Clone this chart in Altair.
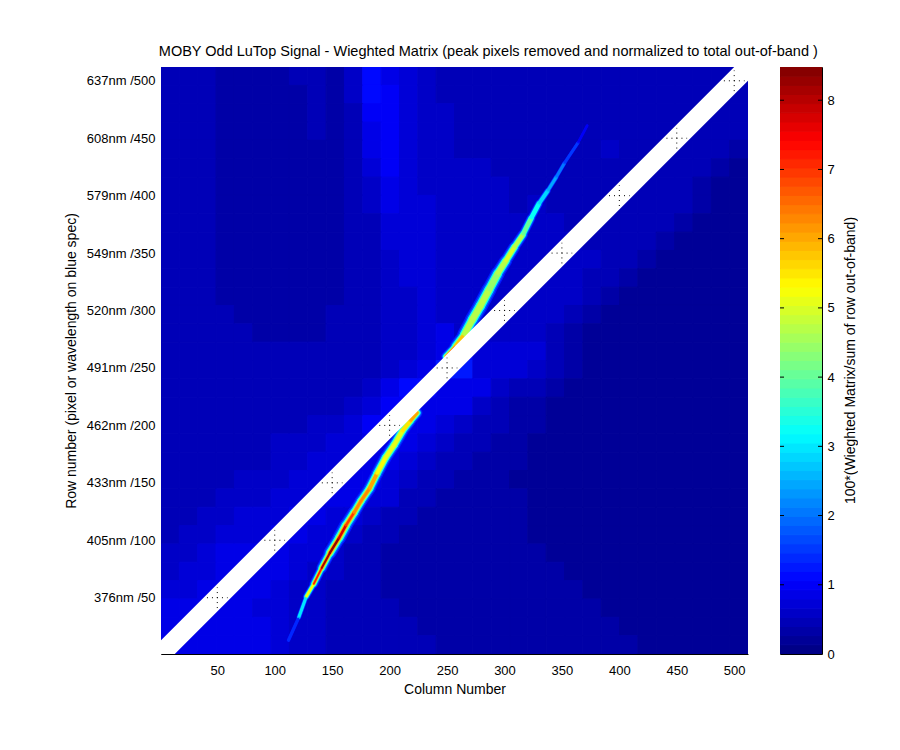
import altair as alt
import pandas as pd

FONT = "Liberation Sans"
TITLE = "MOBY Odd LuTop Signal - Wieghted Matrix (peak pixels removed and normalized to total out-of-band )"
row_ticks = [50, 100, 150, 200, 250, 300, 350, 400, 450, 500]
wavelengths = [376, 405, 433, 462, 491, 520, 549, 579, 608, 637]
VMAX = 8.48

# background level codes (one char per 16 columns, top row first), unit = one colour step
bg_rows = [
    "33322223324865433333333333333333",
    "33322222324875433333333333333333",
    "33322222323775443333333333333333",
    "33322222323675443333333333333333",
    "33322222223675443333333343333332",
    "33322222223575444433333333333321",
    "33322222223465444443333333333211",
    "33322222223465544443433333333211",
    "33322222223355544444443333332111",
    "33322222223355544444444333321111",
    "33322222223345544444444433211111",
    "33322222223345544444444332111111",
    "33322222223344544444444321111111",
    "33332222233344544444443211111111",
    "33333222233344564444432111111111",
    "33333333333344568555532111111111",
    "33333333333345699555432111111111",
    "33333333333468866643321111111111",
    "33333333334577666432211111111111",
    "33333333445776654332211111111111",
    "33333344455666543322111111111111",
    "33333344555665433222111111111111",
    "33334445566654332221111111111111",
    "33344455566553322222111111111111",
    "33445556655433222222111111111111",
    "34455566554332222222111111111111",
    "44566665543322222222211111111111",
    "45566665443322222222221111111111",
    "55666654433322222222222111111111",
    "66666554433332222222222211111111",
    "66666654433333222222222221111111",
    "66666654433333322222222222111111",
]

# ridge below the band
low_col = [112, 121, 127.5, 134, 141, 148, 156, 162, 169, 175, 182.5, 189, 196.5, 204, 211, 218, 224]
low_row = [13, 33, 51, 62, 76, 89, 102, 113, 124, 134, 145, 158, 172, 183, 195, 204, 211]
low_peak = [0.8, 2, 4, 6.5, 8, 8.3, 8.3, 7.3, 6.5, 6, 6.5, 5.5, 5, 5.2, 5, 6, 6]
low_width = [2, 3, 4, 6, 7, 9, 10, 10, 9, 9, 9, 9, 9, 9, 9, 8, 8]

# ridge above the band
up_col = [249, 257.5, 265, 272, 279, 286.5, 294, 301, 308.5, 316, 323, 330, 337.5, 345, 352, 364, 372]
up_row = [260, 269, 279, 292, 304, 318, 332, 343, 355, 366, 380, 393, 404, 416, 428, 446, 461]
up_peak = [7, 6.5, 5, 4.5, 4.8, 4.5, 4.5, 5, 5, 4.5, 3.5, 3, 2.8, 2.2, 1.8, 1.2, 0.8]
up_width = [6, 8, 10, 11, 11, 11, 10, 9, 8, 7, 6, 5, 4, 3, 3, 2, 2]

# cross-section levels: value cap, share of full width
levels = [(1.3, 1.35), (1.8, 1.1), (3.2, 0.85), (4.6, 0.62), (6.0, 0.42), (9.0, 0.25)]

# masked band
band_col = [1, 13, 500, 512]
band_lo = [1, 1, 488, 500]
band_hi = [13, 25, 512, 512]
band_half = 9


def jet(n):
    out = []
    for i in range(n):
        f = (i + 0.5) / n
        r = min(max(min(4 * f - 1.5, -4 * f + 4.5), 0), 1)
        g = min(max(min(4 * f - 0.5, -4 * f + 3.5), 0), 1)
        b = min(max(min(4 * f + 0.5, -4 * f + 2.5), 0), 1)
        out.append("#%02x%02x%02x" % (round(r * 255), round(g * 255), round(b * 255)))
    return out


JET = jet(64)
CS = alt.Scale(type="quantize", domain=[0, VMAX], range=JET)
XS = alt.Scale(domain=[1, 512], nice=False, zero=False)
YS = alt.Scale(domain=[1, 512], nice=False, zero=False)

cells = []
n = len(bg_rows)
for j, row in enumerate(bg_rows):
    for i, ch in enumerate(row):
        cells.append(dict(c0=1 + i * 511 / 32, c1=1 + (i + 1) * 511 / 32,
                          r0=512 - j * 511 / n, r1=512 - (j + 1) * 511 / n,
                          v=(int(ch, 16) + 0.5) * VMAX / 64))
cells = pd.DataFrame(cells)

lab = "{" + ",".join(f"'{t}':'{w}nm /{t}'" for t, w in zip(row_ticks, wavelengths)) + "}[datum.value]"
AX = dict(labelFont=FONT, titleFont=FONT, labelFontSize=13, titleFontSize=14, titleFontWeight="normal",
          labelColor="#000", titleColor="#000", domainColor="#000", ticks=False, grid=False)
XAX = alt.Axis(values=row_ticks, labelPadding=10, titlePadding=5, **AX)
YAX = alt.Axis(values=row_ticks, labelExpr=lab, labelPadding=6, titlePadding=8, **AX)
XT = "Column Number"
YT = "Row number (pixel or wavelength on blue spec)"


def X(f):
    return alt.X(f, scale=XS, title=XT, axis=XAX)


def Y(f):
    return alt.Y(f, scale=YS, title=YT, axis=YAX)


bg = alt.Chart(cells).mark_rect(strokeWidth=1, clip=True).encode(
    x=X("c0:Q"), x2="c1:Q", y=Y("r0:Q"), y2="r1:Q",
    color=alt.Color("v:Q", scale=CS, legend=None),
    stroke=alt.Stroke("v:Q", scale=CS, legend=None),
)

segs = []
for cs, rs, ps, ws in [(low_col, low_row, low_peak, low_width), (up_col, up_row, up_peak, up_width)]:
    for k in range(len(cs) - 1):
        for li, (cap, share) in enumerate(levels):
            segs.append(dict(x=cs[k], x2=cs[k + 1], y=rs[k], y2=rs[k + 1], level=li,
                             v=min((ps[k] + ps[k + 1]) / 2, cap),
                             w=(ws[k] + ws[k + 1]) / 2 * share))
segs = pd.DataFrame(segs).sort_values("level", kind="stable").reset_index(drop=True)
segs["o"] = segs.index

ridge = alt.Chart(segs).mark_rule(strokeCap="round", clip=True).encode(
    x=X("x:Q"), x2="x2:Q", y=Y("y:Q"), y2="y2:Q",
    color=alt.Color("v:Q", scale=CS, legend=None),
    size=alt.Size("w:Q", scale=None, legend=None),
    order="o:Q",
)

band = alt.Chart(pd.DataFrame(dict(c=band_col, lo=band_lo, hi=band_hi))).mark_area(color="white", clip=True).encode(
    x=X("c:Q"), y=Y("lo:Q"), y2="hi:Q",
)

grid = []
for t in row_ticks:
    grid.append(dict(x=t, x2=t, y=t - band_half, y2=t + band_half))
    grid.append(dict(x=t - band_half, x2=t + band_half, y=t, y2=t))
dots = alt.Chart(pd.DataFrame(grid)).mark_rule(color="black", strokeWidth=1, strokeDash=[1, 4], clip=True).encode(
    x=X("x:Q"), x2="x2:Q", y=Y("y:Q"), y2="y2:Q",
)

main = alt.layer(bg, ridge, band, dots).properties(width=587, height=587)

bar_df = pd.DataFrame([dict(a=i * VMAX / 64, b=(i + 1) * VMAX / 64, v=(i + 0.5) * VMAX / 64) for i in range(64)])
CY = alt.Scale(domain=[0, VMAX], nice=False, zero=False)
CAX = alt.Axis(orient="right", values=list(range(9)), labelPadding=5, titleAngle=270, titleX=28, titleY=293,
               titleAlign="center", titleBaseline="middle", domain=False, **AX)
CT = "100*(Wieghted Matrix/sum of row out-of-band)"
bar_rects = alt.Chart(bar_df).mark_rect(strokeWidth=1, clip=True).encode(
    y=alt.Y("a:Q", scale=CY, title=CT, axis=CAX),
    y2="b:Q",
    color=alt.Color("v:Q", scale=CS, legend=None),
    stroke=alt.Stroke("v:Q", scale=CS, legend=None),
)
bar_ticks = pd.DataFrame(dict(t=list(range(1, 9))))
tick_l = alt.Chart(bar_ticks).mark_rule(color="black").encode(
    y=alt.Y("t:Q", scale=CY, title=CT, axis=CAX), x=alt.value(0), x2=alt.value(4))
tick_r = alt.Chart(bar_ticks).mark_rule(color="black").encode(
    y=alt.Y("t:Q", scale=CY, title=CT, axis=CAX), x=alt.value(38), x2=alt.value(42))
cbar = alt.layer(bar_rects, tick_l, tick_r).properties(width=42, height=587, view=alt.ViewBackground(stroke="black"))

chart = alt.hconcat(main, cbar, spacing=30).properties(
    title=alt.TitleParams(TITLE, anchor="start", dx=95, offset=7, font=FONT, fontSize=14.5, fontWeight="normal", color="#000"),
    padding={"left": 55, "top": 36, "right": 0, "bottom": 0},
    background="white",
).configure_view(stroke="transparent")

chart.save("out.html", embed_options={"renderer": "svg", "actions": False})
